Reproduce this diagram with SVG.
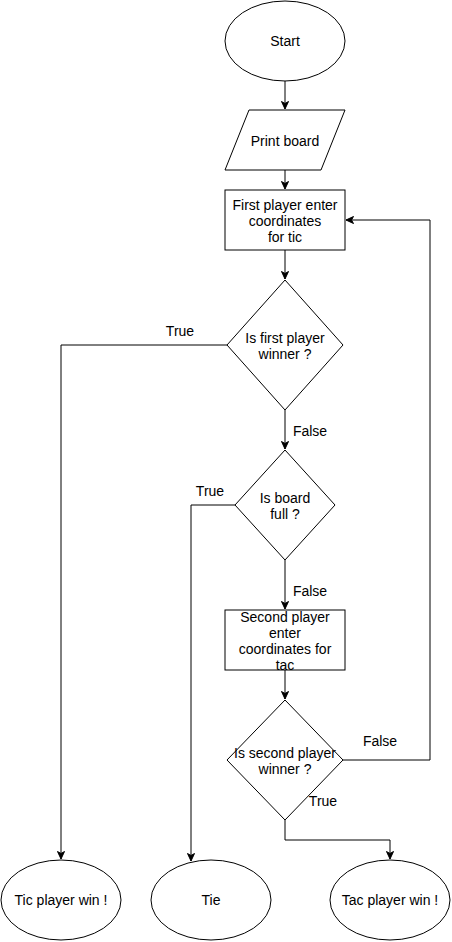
<svg xmlns="http://www.w3.org/2000/svg" width="452" height="942" viewBox="0 0 452 942">
<style>
.s{fill:#fff;stroke:#000;stroke-width:1}
.t{font-family:"Liberation Sans",Arial,sans-serif;font-size:14px;fill:#000;text-anchor:middle;dominant-baseline:central}
.e{fill:none;stroke:#000;stroke-width:1}
</style>
<defs>
<marker id="a" markerUnits="userSpaceOnUse" markerWidth="10" markerHeight="10" refX="8" refY="4" orient="auto">
<path d="M0.5,0.5 L8,4 L0.5,7.5 L2.5,4 Z" fill="#000" stroke="#000" stroke-width="1"/>
</marker>
</defs>
<rect width="452" height="942" fill="#fff"/>
<g id="connectors">
<path class="e" d="M285,81 L285,109" marker-end="url(#a)"/>
<path class="e" d="M285,170 L285,189" marker-end="url(#a)"/>
<path class="e" d="M285,250 L285,279" marker-end="url(#a)"/>
<path class="e" d="M227,345 L61,345 L61,859" marker-end="url(#a)"/>
<text class="t" x="180" y="331">True</text>
<path class="e" d="M285,410 L285,449" marker-end="url(#a)"/>
<text class="t" x="310" y="431">False</text>
<path class="e" d="M235,505 L191,505 L191,861" marker-end="url(#a)"/>
<text class="t" x="210" y="491">True</text>
<path class="e" d="M285,560 L285,609" marker-end="url(#a)"/>
<text class="t" x="310" y="591">False</text>
<path class="e" d="M285,670 L285,699" marker-end="url(#a)"/>
<path class="e" d="M343,760 L430,760 L430,220 L346,220" marker-end="url(#a)"/>
<text class="t" x="380" y="741">False</text>
<path class="e" d="M285,820 L285,840 L390,840 L390,859" marker-end="url(#a)"/>
<text class="t" x="323" y="801">True</text>
</g>
<g id="start">
<ellipse class="s" cx="285" cy="41" rx="60" ry="40"/>
<text class="t" x="285" y="41">Start</text>
</g>
<g id="print-board">
<polygon class="s" points="249,110 345,110 321,170 225,170"/>
<text class="t" x="285" y="141">Print board</text>
</g>
<g id="first-input">
<rect class="s" x="225" y="190" width="120" height="60"/>
<text class="t" x="285" y="205">First player enter</text>
<text class="t" x="285" y="221">coordinates</text>
<text class="t" x="285" y="237">for tic</text>
</g>
<g id="first-winner">
<polygon class="s" points="285,280 343,345 285,410 227,345"/>
<text class="t" x="285" y="338">Is first player</text>
<text class="t" x="285" y="354">winner ?</text>
</g>
<g id="board-full">
<polygon class="s" points="285,450 335,505 285,560 235,505"/>
<text class="t" x="285" y="498">Is board</text>
<text class="t" x="285" y="514">full ?</text>
</g>
<g id="second-input">
<rect class="s" x="225" y="610" width="120" height="60"/>
<text class="t" x="285" y="617">Second player</text>
<text class="t" x="285" y="633">enter</text>
<text class="t" x="285" y="649">coordinates for</text>
<text class="t" x="285" y="665">tac</text>
</g>
<g id="second-winner">
<polygon class="s" points="285,700 343,760 285,820 227,760"/>
<text class="t" x="285" y="753">Is second player</text>
<text class="t" x="285" y="769">winner ?</text>
</g>
<g id="tic-win">
<ellipse class="s" cx="61" cy="900" rx="60" ry="40"/>
<text class="t" x="61" y="900">Tic player win !</text>
</g>
<g id="tie">
<ellipse class="s" cx="211" cy="900" rx="60" ry="40"/>
<text class="t" x="211" y="900">Tie</text>
</g>
<g id="tac-win">
<ellipse class="s" cx="390" cy="900" rx="60" ry="40"/>
<text class="t" x="390" y="900">Tac player win !</text>
</g>
</svg>
